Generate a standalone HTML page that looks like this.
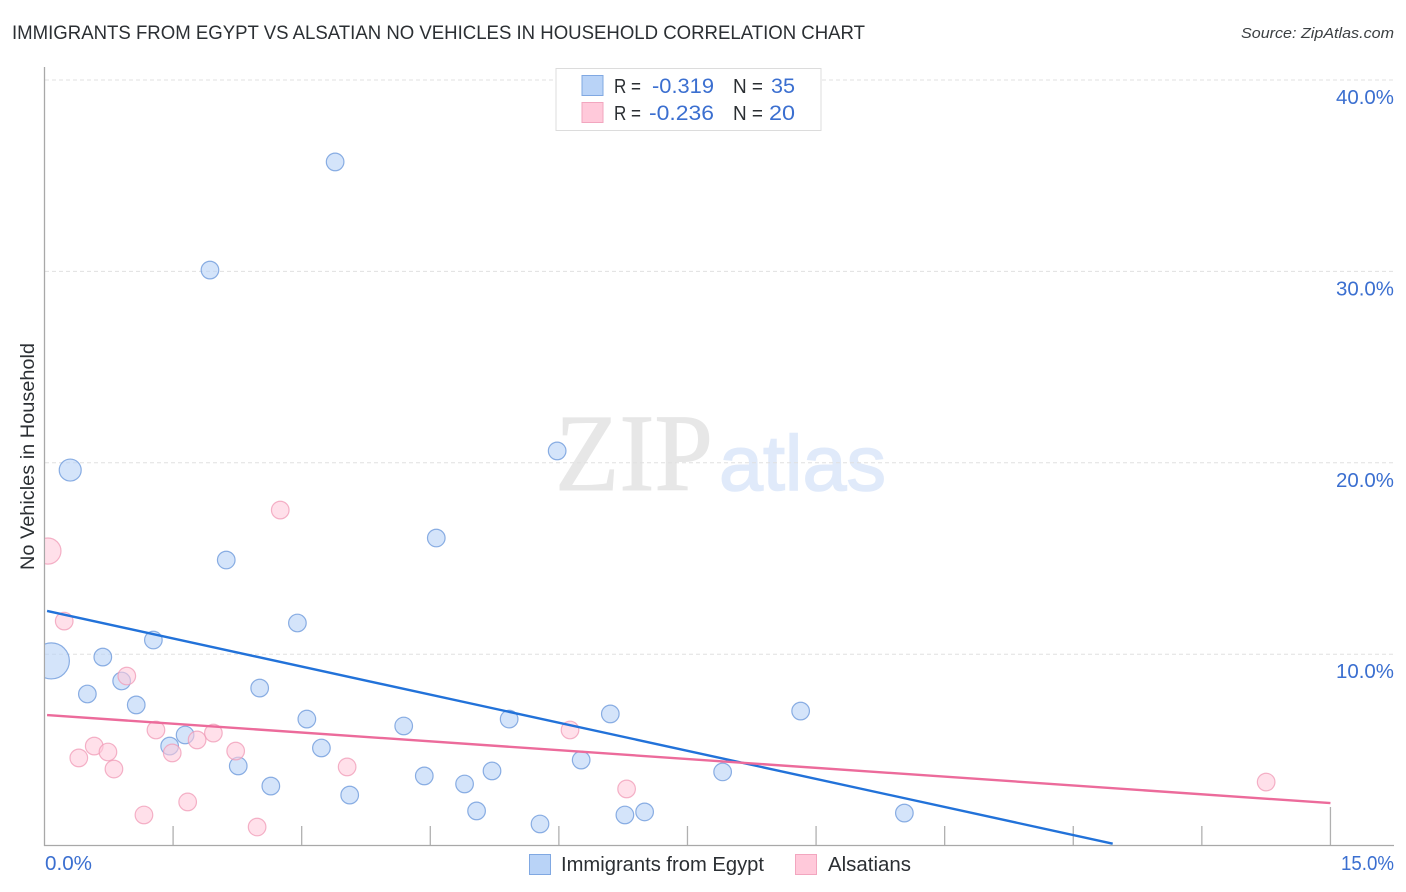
<!DOCTYPE html>
<html lang="en">
<head>
<meta charset="utf-8">
<title>Immigrants from Egypt vs Alsatian No Vehicles in Household Correlation Chart</title>
<style>
html,body{margin:0;padding:0;background:#fff;width:1406px;height:892px;overflow:hidden}
svg{display:block;font-family:"Liberation Sans",sans-serif}
</style>
</head>
<body>
<svg id="chart" xmlns="http://www.w3.org/2000/svg" width="1406" height="892" viewBox="0 0 1406 892">
  <defs><clipPath id="plot-clip"><rect x="45" y="60" width="1349" height="785"/></clipPath></defs>
  <rect width="1406" height="892" fill="#fff"/>
  <text x="12" y="39" font-size="19.5" fill="#2b2f33" textLength="853" lengthAdjust="spacingAndGlyphs">IMMIGRANTS FROM EGYPT VS ALSATIAN NO VEHICLES IN HOUSEHOLD CORRELATION CHART</text>
  <text x="1394" y="38" font-size="15" font-style="italic" fill="#3c4043" text-anchor="end" textLength="153" lengthAdjust="spacingAndGlyphs">Source: ZipAtlas.com</text>
  <g>
    <text x="555" y="490" font-family="'Liberation Serif',serif" font-size="110" fill="#e7e7e7" stroke="#e7e7e7" stroke-width="1" textLength="158" lengthAdjust="spacingAndGlyphs">ZIP</text>
    <text x="719" y="490" font-size="78" fill="#e0eafa" stroke="#e0eafa" stroke-width="1.5" textLength="167" lengthAdjust="spacingAndGlyphs">atlas</text>
  </g>
  <g id="grid"></g>
  <g id="axes"></g>
  <g id="points-blue" clip-path="url(#plot-clip)"></g>
  <g id="points-pink" clip-path="url(#plot-clip)"></g>
  <g id="trends"></g>
  <g id="tick-labels"></g>
  <text transform="translate(34,456.5) rotate(-90)" font-size="19" fill="#2b2f33" text-anchor="middle" textLength="227" lengthAdjust="spacingAndGlyphs">No Vehicles in Household</text>

  <g>
    <rect x="556" y="68.5" width="265" height="62" fill="#fff" stroke="#dcdcdc" stroke-width="1"/>
    <rect x="582" y="75.5" width="21" height="20" fill="#b9d3f7" stroke="#80a8e2"/>
    <rect x="582" y="102.5" width="21" height="20" fill="#ffc9da" stroke="#f2a6bf"/>
    <text x="614" y="93" font-size="20" fill="#2b2f33" textLength="27" lengthAdjust="spacingAndGlyphs">R =</text>
    <text x="652" y="93" font-size="21" fill="#3b6fd0" textLength="62" lengthAdjust="spacingAndGlyphs">-0.319</text>
    <text x="733" y="93" font-size="20" fill="#2b2f33" textLength="30" lengthAdjust="spacingAndGlyphs">N =</text>
    <text x="771" y="93" font-size="21" fill="#3b6fd0" textLength="24" lengthAdjust="spacingAndGlyphs">35</text>
    <text x="614" y="120" font-size="20" fill="#2b2f33" textLength="27" lengthAdjust="spacingAndGlyphs">R =</text>
    <text x="649" y="120" font-size="21" fill="#3b6fd0" textLength="65" lengthAdjust="spacingAndGlyphs">-0.236</text>
    <text x="733" y="120" font-size="20" fill="#2b2f33" textLength="30" lengthAdjust="spacingAndGlyphs">N =</text>
    <text x="769" y="120" font-size="21" fill="#3b6fd0" textLength="26" lengthAdjust="spacingAndGlyphs">20</text>
  </g>

  <g>
    <rect x="529.5" y="854.5" width="21" height="20" fill="#b9d3f7" stroke="#80a8e2"/>
    <text x="561" y="871" font-size="20" fill="#2b2f33" textLength="203" lengthAdjust="spacingAndGlyphs">Immigrants from Egypt</text>
    <rect x="795.5" y="854.5" width="21" height="20" fill="#ffc9da" stroke="#f2a6bf"/>
    <text x="828" y="871" font-size="20" fill="#2b2f33" textLength="83" lengthAdjust="spacingAndGlyphs">Alsatians</text>
  </g>
</svg>
<script>
const yTicks = [10, 20, 30, 40];
const yTickLabels = ["10.0%", "20.0%", "30.0%", "40.0%"];
const xTicks = [1.5, 3, 4.5, 6, 7.5, 9, 10.5, 12, 13.5];
const xEndTick = 15;
const xTickLabels = ["0.0%", "15.0%"];

const egyptX = [3.39,1.93,0.30,5.98,4.57,2.12,2.95,1.27,0.68,0.08,0.90,0.50,1.07,2.51,3.06,4.19,5.42,6.60,8.82,1.64,1.46,3.23,2.26,6.26,7.91,5.22,4.43,4.90,2.64,3.56,5.04,7.00,6.77,10.03,5.78];
const egyptY = [35.72,30.07,19.62,20.62,16.07,14.92,11.63,10.74,9.85,9.65,8.60,7.92,7.35,8.23,6.61,6.25,6.61,6.88,7.03,5.78,5.20,5.10,4.16,4.47,3.85,3.90,3.64,3.22,3.11,2.64,1.81,1.76,1.60,1.70,1.13];
const egyptWeight = [1,1,1.56,1,1,1,1,1,1,4.2,1,1,1,1,1,1,1,1,1,1,1,1,1,1,1,1,1,1,1,1,1,1,1,1,1];

const alsatianX = [0.04,2.75,0.23,0.96,1.30,6.13,1.97,1.78,0.58,0.74,1.49,2.23,0.40,0.81,3.53,6.79,1.67,1.16,14.25,2.48];
const alsatianY = [15.39,17.53,11.73,8.86,6.04,6.04,5.88,5.52,5.20,4.89,4.84,4.94,4.58,4.00,4.11,2.96,2.28,1.60,3.32,0.97];
const alsatianWeight = [2.2,1,1,1,1,1,1,1,1,1,1,1,1,1,1,1,1,1,1,1];

const egyptTrendX = [0.03, 12.46];
const egyptTrendY = [12.26, 0.10];
const alsatianTrendX = [0.03, 15];
const alsatianTrendY = [6.82, 2.22];

const SVGNS = "http://www.w3.org/2000/svg";
function xScale(v){ return 44.5 + v * 85.73; }
function yScale(v){ return 845.6 - v * 19.14; }
function rScale(w){ return 8.8 * Math.sqrt(w); }
function make(tag, attrs, parent){
  const el = document.createElementNS(SVGNS, tag);
  for (const k in attrs) el.setAttribute(k, attrs[k]);
  parent.appendChild(el);
  return el;
}

const grid = document.getElementById("grid");
const axes = document.getElementById("axes");
const labels = document.getElementById("tick-labels");
const trends = document.getElementById("trends");

yTicks.forEach(function(t, i){
  const line = make("line", {x1:45, x2:1394, y1:yScale(t), y2:yScale(t), stroke:"#e0e0e0", "stroke-width":1, "stroke-dasharray":"4 3"}, grid);
  
  
  const label = make("text", {x:1394, y:yScale(t) + 24, "font-size":20, fill:"#3b6fd0", "text-anchor":"end", textLength:58, lengthAdjust:"spacingAndGlyphs"}, labels);
  label.textContent = yTickLabels[i];
  
  
});

const yAxis = make("line", {x1:44.5, x2:44.5, y1:67, y2:846, stroke:"#a8a8a8", "stroke-width":1.3}, axes);


const xAxis = make("line", {x1:44, x2:1394, y1:845.5, y2:845.5, stroke:"#a8a8a8", "stroke-width":1.3}, axes);


xTicks.forEach(function(t){
  const tick = make("line", {x1:xScale(t), x2:xScale(t), y1:826, y2:845, stroke:"#b0b0b0", "stroke-width":1.3}, axes);
  
  
});
const endTick = make("line", {x1:xScale(xEndTick), x2:xScale(xEndTick), y1:807, y2:845, stroke:"#b0b0b0", "stroke-width":1.3}, axes);



const xLabelStart = make("text", {x:45, y:870, "font-size":20, fill:"#3b6fd0", textLength:47, lengthAdjust:"spacingAndGlyphs"}, labels);
xLabelStart.textContent = xTickLabels[0];


const xLabelEnd = make("text", {x:1394, y:870, "font-size":20, fill:"#3b6fd0", "text-anchor":"end", textLength:53, lengthAdjust:"spacingAndGlyphs"}, labels);
xLabelEnd.textContent = xTickLabels[1];



const blueGroup = document.getElementById("points-blue");
egyptX.forEach(function(x, i){
  const c = make("circle", {cx:xScale(x), cy:yScale(egyptY[i]), r:rScale(egyptWeight[i]), fill:"#b9d3f7", "fill-opacity":0.62, stroke:"#6f9bdc", "stroke-opacity":0.8, "stroke-width":1.2}, blueGroup);
  
  
});
const pinkGroup = document.getElementById("points-pink");
alsatianX.forEach(function(x, i){
  const c = make("circle", {cx:xScale(x), cy:yScale(alsatianY[i]), r:rScale(alsatianWeight[i]), fill:"#ffc9da", "fill-opacity":0.58, stroke:"#f09ab6", "stroke-opacity":0.75, "stroke-width":1.2}, pinkGroup);
  
  
});

const blueTrend = make("line", {x1:xScale(egyptTrendX[0]), y1:yScale(egyptTrendY[0]), x2:xScale(egyptTrendX[1]), y2:yScale(egyptTrendY[1]), stroke:"#2272d9", "stroke-width":2.4}, trends);


const pinkTrend = make("line", {x1:xScale(alsatianTrendX[0]), y1:yScale(alsatianTrendY[0]), x2:xScale(alsatianTrendX[1]), y2:yScale(alsatianTrendY[1]), stroke:"#ec6b9b", "stroke-width":2.4}, trends);


</script>
</body>
</html>
